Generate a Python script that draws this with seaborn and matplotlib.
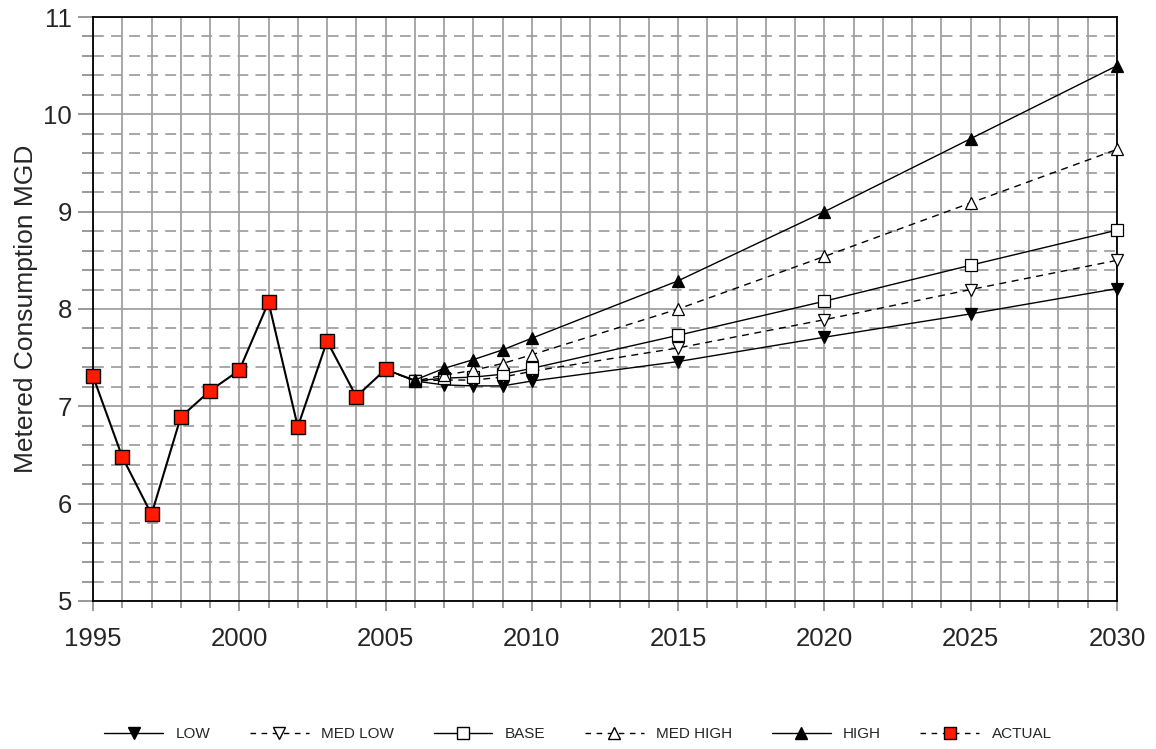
import numpy as np
import pandas as pd
import matplotlib
matplotlib.use("Agg")
import matplotlib.pyplot as plt
from matplotlib.lines import Line2D
from matplotlib.ticker import MultipleLocator
import seaborn as sns

# --- datos ---
actual_years = [1995, 1996, 1997, 1998, 1999, 2000, 2001, 2002, 2003, 2004, 2005]
actual_vals = [7.31, 6.48, 5.89, 6.89, 7.16, 7.37, 8.07, 6.79, 7.67, 7.10, 7.38]

proj_years = [2005, 2006, 2007, 2008, 2009, 2010, 2015, 2020, 2025, 2030]
low = [7.38, 7.26, 7.22, 7.21, 7.21, 7.26, 7.46, 7.71, 7.95, 8.21]
med_low = [7.38, 7.26, 7.27, 7.27, 7.30, 7.36, 7.60, 7.89, 8.20, 8.50]
base = [7.38, 7.26, 7.29, 7.30, 7.33, 7.39, 7.73, 8.08, 8.45, 8.81]
med_high = [7.38, 7.26, 7.32, 7.37, 7.44, 7.53, 8.00, 8.54, 9.09, 9.64]
high = [7.38, 7.27, 7.39, 7.48, 7.58, 7.70, 8.29, 9.00, 9.75, 10.50]

labels = ["LOW", "MED LOW", "BASE", "MED HIGH", "HIGH", "ACTUAL"]

sns.set_style("white")
plt.rcParams["font.family"] = ["Liberation Sans", "DejaVu Sans"]

fig = plt.figure(figsize=(11.56, 7.49), dpi=100)
ax = fig.add_axes([93 / 1156, 1 - 601 / 749, (1117 - 93) / 1156, (601 - 17) / 749])

# estilos de cada escenario: (valores, marcador, relleno, linea)
series = [
    (low, "v", "black", "-"),
    (med_low, "v", "white", (0, (5, 4))),
    (base, "s", "white", "-"),
    (med_high, "^", "white", (0, (5, 4))),
    (high, "^", "black", "-"),
]

for vals, mk, fc, ls in series:
    df = pd.DataFrame({"year": proj_years, "mgd": vals})
    sns.lineplot(data=df, x="year", y="mgd", ax=ax, color="black", linewidth=1.0,
                 linestyle=ls, marker=mk, markersize=9, markerfacecolor=fc,
                 markeredgecolor="black", markeredgewidth=0.9,
                 markevery=slice(1, None), clip_on=False, legend=False, zorder=3)

df_act = pd.DataFrame({"year": actual_years, "mgd": actual_vals})
sns.lineplot(data=df_act, x="year", y="mgd", ax=ax, color="black", linewidth=1.5,
             marker="s", markersize=10, markerfacecolor="#ff1a00",
             markeredgecolor="black", markeredgewidth=1.0, clip_on=False,
             legend=False, zorder=4)

# --- ejes y grilla ---
ax.set_xlim(1995, 2030)
ax.set_ylim(5, 11)
ax.xaxis.set_major_locator(MultipleLocator(5))
ax.xaxis.set_minor_locator(MultipleLocator(1))
ax.yaxis.set_major_locator(MultipleLocator(1))
ax.yaxis.set_minor_locator(MultipleLocator(0.2))

grid_c = "#a0a0a0"
ax.grid(which="major", axis="both", color=grid_c, linewidth=1.3, linestyle="-")
ax.grid(which="minor", axis="x", color=grid_c, linewidth=1.3, linestyle="-")
ax.grid(which="minor", axis="y", color=grid_c, linewidth=1.3, linestyle=(0, (6, 4)))
ax.set_axisbelow(True)

ax.tick_params(axis="x", which="major", direction="out", length=7.5, width=1.2,
               color="#888888", labelsize=18.5, pad=11, bottom=True)
ax.tick_params(axis="x", which="minor", direction="out", length=5, width=1.2,
               color="#888888", bottom=True)
ax.tick_params(axis="y", which="major", direction="out", length=11, width=1.2,
               color="#888888", labelsize=18.5, pad=4, left=True)
ax.tick_params(axis="y", which="minor", direction="out", length=8, width=1.2,
               color="#888888", left=True)

for sp in ax.spines.values():
    sp.set_color("black")
    sp.set_linewidth(1.3)

ax.set_xlabel("")
ax.set_ylabel("Metered Consumption MGD", fontsize=19, labelpad=4)

# --- leyenda ---
handles = [
    Line2D([], [], color="black", lw=1.0, ls="-", marker="v", ms=9,
           mfc="black", mec="black"),
    Line2D([], [], color="black", lw=1.0, ls=(0, (4, 4)), marker="v", ms=9,
           mfc="white", mec="black"),
    Line2D([], [], color="black", lw=1.0, ls="-", marker="s", ms=9,
           mfc="white", mec="black"),
    Line2D([], [], color="black", lw=1.0, ls=(0, (4, 4)), marker="^", ms=9,
           mfc="white", mec="black"),
    Line2D([], [], color="black", lw=1.0, ls="-", marker="^", ms=9,
           mfc="black", mec="black"),
    Line2D([], [], color="black", lw=1.0, ls=(0, (4, 4)), marker="s", ms=9,
           mfc="#ff1a00", mec="black"),
]
fig.legend(handles, labels, loc="center", bbox_to_anchor=(578 / 1156, 1 - 734 / 749),
           ncol=6, frameon=False, fontsize=11, handlelength=3.85,
           handletextpad=0.8, columnspacing=2.6)

fig.savefig("out.png", dpi=100)
